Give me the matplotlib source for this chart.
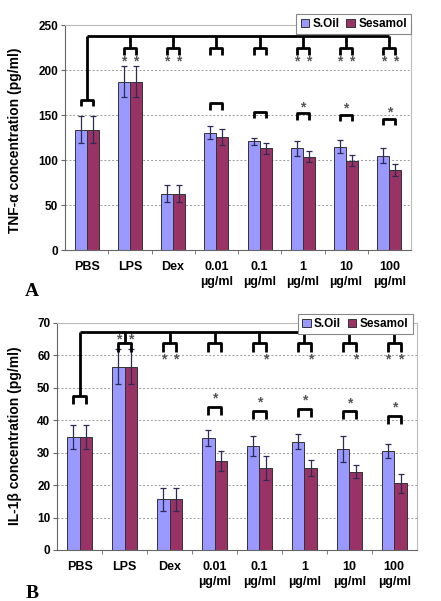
import numpy as np
import matplotlib.pyplot as plt

plt.rcParams['font.family'] = ['Liberation Sans', 'DejaVu Sans']
plt.rcParams['font.weight'] = 'bold'

groups = ['PBS', 'LPS', 'Dex', '0.01\nµg/ml', '0.1\nµg/ml', '1\nµg/ml', '10\nµg/ml', '100\nµg/ml']
series = ['S.Oil', 'Sesamol']

# panel A: TNF-alpha (pg/ml)
tnf_oil = [134, 187, 63, 130.5, 121, 113, 115, 105]
tnf_oil_err = [15, 17, 9, 7, 4, 8, 7, 8.5]
tnf_ses = [134, 187, 63, 126, 113, 104, 99.5, 89]
tnf_ses_err = [15, 17, 9, 9, 6, 6, 6, 7]

# panel B: IL-1beta (pg/ml)
il_oil = [34.8, 56.5, 15.6, 34.5, 32.1, 33.4, 31.1, 30.5]
il_oil_err = [3.8, 5.5, 3.6, 2.6, 3.0, 2.2, 4.0, 2.2]
il_ses = [34.8, 56.5, 15.6, 27.4, 25.3, 25.3, 24.1, 20.6]
il_ses_err = [3.8, 5.5, 3.6, 3.0, 3.7, 2.4, 2.0, 2.9]

# significance vs PBS (star under each bar of the top bracket row)
tnf_sig_oil = [0, 1, 1, 0, 0, 1, 1, 1]
tnf_sig_ses = [0, 1, 1, 0, 0, 1, 1, 1]
il_sig_oil = [0, 1, 1, 0, 0, 0, 0, 1]
il_sig_ses = [0, 1, 1, 0, 1, 1, 1, 1]
# S.Oil vs Sesamol at the same dose
tnf_pair_sig = [0, 0, 0, 0, 0, 1, 1, 1]
il_pair_sig = [0, 0, 0, 1, 1, 1, 1, 1]

BLUE = '#9999FF'
RED = '#993366'
W = 0.28


def panel(ax, oil, oil_err, ses, ses_err, ymax, ystep, sig_oil, sig_ses,
          pair_sig, pair_y, top_y, stub_y, leg, star_y, pbs_y):
    x = np.arange(len(groups))
    ekw = dict(ecolor='#2b2b55', elinewidth=0.9, capsize=2.5, capthick=0.9)
    ax.bar(x - W / 2, oil, W, yerr=oil_err, color=BLUE, edgecolor='#333333',
           linewidth=0.7, error_kw=ekw, label=series[0], zorder=2)
    ax.bar(x + W / 2, ses, W, yerr=ses_err, color=RED, edgecolor='#333333',
           linewidth=0.7, error_kw=ekw, label=series[1], zorder=2)

    ax.set_xlim(-0.5, len(groups) - 0.5)
    ax.set_ylim(0, ymax)
    ax.set_yticks(np.arange(0, ymax + 1, ystep))
    ax.set_xticks(x)
    ax.set_xticklabels(groups, fontsize=9, fontweight='bold', linespacing=1.3)
    ax.set_xticks(np.arange(0.5, len(groups) - 1, 1), minor=True)
    ax.tick_params(axis='x', which='major', length=0, pad=8)
    ax.tick_params(axis='x', which='minor', length=3, color='#666666')
    ax.tick_params(axis='y', length=3, labelsize=8.5, color='#666666', pad=2)
    for lab in ax.get_yticklabels():
        lab.set_fontweight('bold')
    ax.yaxis.grid(True, color='#999999', linestyle=(0, (2, 2)), linewidth=0.7)
    ax.set_axisbelow(True)
    for s in ['top', 'right']:
        ax.spines[s].set_color('#bbbbbb')
    for s in ['left', 'bottom']:
        ax.spines[s].set_color('#666666')

    lk = dict(color='black', linewidth=2, solid_capstyle='butt', zorder=4)
    sk = dict(ha='center', va='center', fontsize=10, color='#555555', zorder=5)
    # main connector from PBS to all groups
    ax.plot([0, len(groups) - 1], [top_y, top_y], **lk)
    ax.plot([0, 0], [top_y, pbs_y], **lk)
    ax.plot([-W / 2, -W / 2, W / 2, W / 2], [pbs_y - leg, pbs_y, pbs_y, pbs_y - leg], **lk)
    for i in range(1, len(groups)):
        ax.plot([i, i], [top_y, stub_y], **lk)
        ax.plot([i - W / 2, i - W / 2, i + W / 2, i + W / 2],
                [stub_y - leg, stub_y, stub_y, stub_y - leg], **lk)
        if sig_oil[i]:
            ax.text(i - W / 2, star_y[i], '*', **sk)
        if sig_ses[i]:
            ax.text(i + W / 2, star_y[i], '*', **sk)
    # S.Oil vs Sesamol brackets
    for i, py in enumerate(pair_y):
        if np.isnan(py):
            continue
        ax.plot([i - W / 2, i - W / 2, i + W / 2, i + W / 2],
                [py - leg, py, py, py - leg], **lk)
        if pair_sig[i]:
            ax.text(i, py + leg, '*', **sk)


fig = plt.figure(figsize=(4.41, 6.01), dpi=100)
axA = fig.add_axes([65 / 441, 1 - 250.3 / 601, 346 / 441, 225.3 / 601])
axB = fig.add_axes([57.3 / 441, 1 - 550 / 601, 359.4 / 441, 227.3 / 601])

nan = np.nan
panel(axA, tnf_oil, tnf_oil_err, tnf_ses, tnf_ses_err, 250, 50,
      tnf_sig_oil, tnf_sig_ses, tnf_pair_sig,
      [nan, nan, nan, 163, 154, 152, 150, 146],
      238, 224, 7, [nan, 209, 209, 209, 209, 209, 209, 209], 167)
panel(axB, il_oil, il_oil_err, il_ses, il_ses_err, 70, 10,
      il_sig_oil, il_sig_ses, il_pair_sig,
      [nan, nan, nan, 44.1, 42.8, 43.5, 42.7, 41.4],
      67.1, 63.6, 2.5, [nan, 64.7, 58.7, 58.7, 58.7, 58.7, 58.7, 58.7], 47.5)

fig.text(15 / 441, 1 - 140 / 601, 'TNF-α concentration (pg/ml)', rotation=90,
         ha='center', va='center', fontsize=10, fontweight='bold')
fig.text(15 / 441, 1 - 436 / 601, 'IL-1β concentration (pg/ml)', rotation=90,
         ha='center', va='center', fontsize=10, fontweight='bold')
fig.text(32 / 441, 1 - 292 / 601, 'A', family=['Liberation Serif', 'DejaVu Serif'],
         ha='center', va='center', fontsize=14, fontweight='bold')
fig.text(32 / 441, 1 - 593 / 601, 'B', family=['Liberation Serif', 'DejaVu Serif'],
         ha='center', va='center', fontsize=14, fontweight='bold')

leg_kw = dict(loc='upper right', ncol=2, frameon=True, fancybox=False,
              edgecolor='#888888', framealpha=1, handlelength=0.7, handleheight=0.7,
              handletextpad=0.3, columnspacing=0.6, borderpad=0.35, borderaxespad=0,
              prop={'weight': 'bold', 'size': 8.5})
lA = axA.legend(bbox_to_anchor=(411 / 441, 1 - 14 / 601),
                bbox_transform=fig.transFigure, **leg_kw)
lB = axB.legend(bbox_to_anchor=(412.7 / 441, 1 - 314 / 601),
                bbox_transform=fig.transFigure, **leg_kw)
for lg in (lA, lB):
    lg.get_frame().set_linewidth(0.8)
    lg.set_zorder(10)

fig.savefig('out.png', dpi=100)
